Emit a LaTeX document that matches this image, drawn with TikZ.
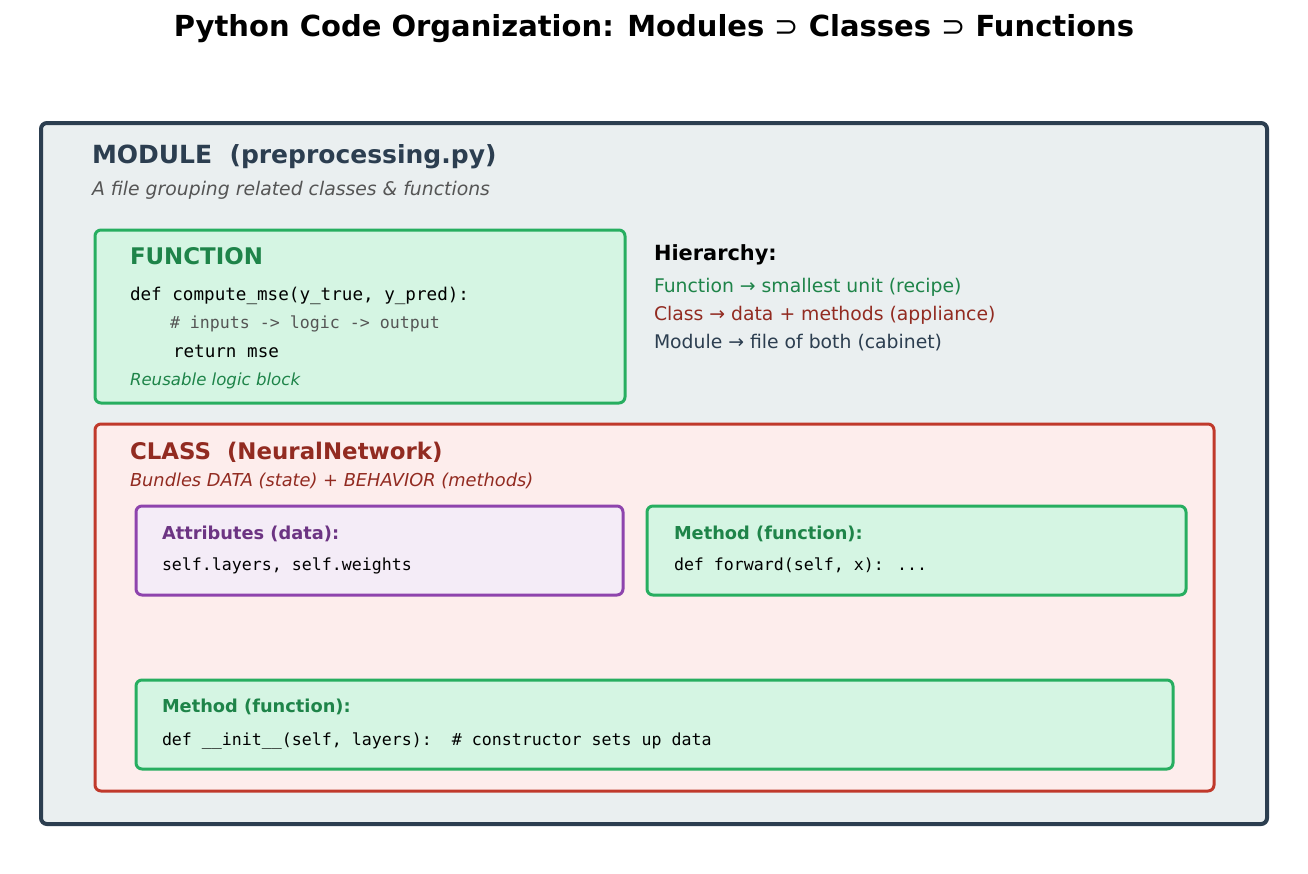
\documentclass[tikz,border=0pt]{standalone}
\usepackage{fontspec}
\setmainfont{DejaVu Sans}
\newfontfamily\codef{DejaVu Sans Mono}
\newfontfamily\symf{DejaVu Sans}
\definecolor{modb}{HTML}{2C3E50}
\definecolor{modf}{HTML}{EAEFF0}
\definecolor{grb}{HTML}{27AE60}
\definecolor{grf}{HTML}{D5F5E3}
\definecolor{grt}{HTML}{1E8449}
\definecolor{rdb}{HTML}{C0392B}
\definecolor{rdf}{HTML}{FDEDEC}
\definecolor{rdt}{HTML}{922B21}
\definecolor{pub}{HTML}{8E44AD}
\definecolor{puf}{HTML}{F4ECF7}
\definecolor{put}{HTML}{6C3483}
\definecolor{gyt}{HTML}{555555}
\begin{document}
\begin{tikzpicture}[x=1pt,y=-1pt,
  box/.style={rounded corners=6pt, line width=3pt},
  lbl/.style={anchor=base west, inner sep=0pt, outer sep=0pt},
  fs/.style={font=\fontsize{#1}{#1}\selectfont},
  cfs/.style={font=\codef\fontsize{#1}{#1}\selectfont},
]
\useasboundingbox (0,0) rectangle (1308,873);
\fill[white] (0,0) rectangle (1308,873);
\node[inner sep=0pt, anchor=base] (title) at (654,36) {\fontsize{29}{29}\selectfont\bfseries Python Code Organization: Modules {\symf\mdseries ⊃} Classes {\symf\mdseries ⊃} Functions};
% module
\draw[box, line width=4pt, draw=modb, fill=modf] (41,123) rectangle (1267,824);
\node[lbl, fs=25, text=modb] (modt) at (92,163) {\bfseries MODULE\ \ (preprocessing.py)};
\node[lbl, fs=18.8, text=gyt] (mods) at (92,195) {\itshape A file grouping related classes \& functions};
% function
\draw[box, draw=grb, fill=grf] (95,230) rectangle (625,403);
\node[lbl, fs=22.9, text=grt] (funt) at (130,264) {\bfseries FUNCTION};
\node[lbl, cfs=17.6] (fc1) at (130,300) {def compute\_mse(y\_true, y\_pred):};
\node[lbl, cfs=16.6, text=gyt] (fc2) at (170,328) {\# inputs -> logic -> output};
\node[lbl, cfs=17.6] (fc3) at (173,357) {return mse};
\node[lbl, fs=16.6, text=grt] (fc4) at (130,385) {\itshape Reusable logic block};
% hierarchy
\node[lbl, fs=20.9] (hier) at (654,260) {\bfseries Hierarchy:};
\node[lbl, fs=18.8, text=grt] (h1) at (654,292) {Function → smallest unit (recipe)};
\node[lbl, fs=18.8, text=rdt] (h2) at (654,320) {Class → data + methods (appliance)};
\node[lbl, fs=18.8, text=modb] (h3) at (654,348) {Module → file of both (cabinet)};
% class
\draw[box, draw=rdb, fill=rdf] (95,424) rectangle (1214,791);
\node[lbl, fs=22.9, text=rdt] (clt) at (130,459) {\bfseries CLASS\ \ (NeuralNetwork)};
\node[lbl, fs=17.8, text=rdt] (cls) at (130,486) {\itshape Bundles DATA (state) + BEHAVIOR (methods)};
% attributes
\draw[box, draw=pub, fill=puf] (136,506) rectangle (623,595);
\node[lbl, fs=17.8, text=put] (att) at (162,539) {\bfseries Attributes (data):};
\node[lbl, cfs=16.6] (attc) at (162,570) {self.layers, self.weights};
% method forward
\draw[box, draw=grb, fill=grf] (647,506) rectangle (1186,595);
\node[lbl, fs=17.8, text=grt] (m1) at (674,539) {\bfseries Method (function):};
\node[lbl, cfs=16.6] (m1c) at (674,570) {def forward(self, x): ...};
% method init
\draw[box, draw=grb, fill=grf] (136,680) rectangle (1173,769);
\node[lbl, fs=17.8, text=grt] (m2) at (162,712) {\bfseries Method (function):};
\node[lbl, cfs=16.6] (m2c) at (162,745) {def \_\_init\_\_(self, layers):\ \ \# constructor sets up data};
\end{tikzpicture}
\end{document}
